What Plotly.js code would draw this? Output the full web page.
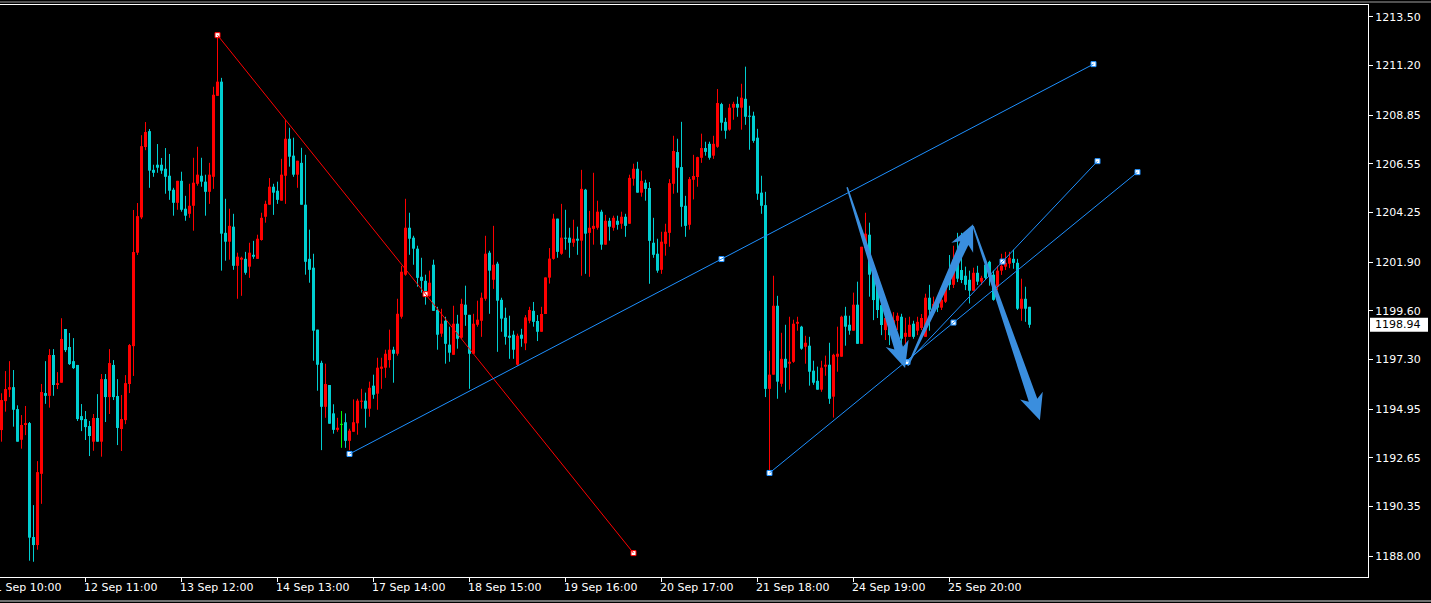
<!DOCTYPE html>
<html><head><meta charset="utf-8">
<script src="https://cdn.plot.ly/plotly-3.0.1.min.js"></script>
<style>html,body{margin:0;padding:0;background:#000;overflow:hidden}#chart{width:1431px;height:603px}</style>
</head><body><div id="chart"></div>
<script>
// ---------- data (XAUUSD H1, bar index 0..257) ----------
const open = [1193.96,1195.33,1195.87,1195.99,1194.95,1193.50,1194.20,1194.29,1188.90,1188.52,
1191.89,1195.71,1195.58,1197.51,1196.09,1196.20,1198.74,1197.89,1197.22,1197.04,
1194.62,1194.48,1194.15,1193.41,1194.53,1193.41,1196.37,1195.52,1197.04,1195.57,
1194.01,1194.43,1196.14,1197.93,1202.35,1204.02,1207.35,1208.10,1206.27,1206.51,
1206.51,1206.32,1205.99,1205.33,1204.71,1205.75,1204.43,1204.19,1204.57,1205.61,
1205.99,1205.71,1205.23,1205.94,1209.77,1210.44,1203.29,1202.87,1203.58,1201.73,
1202.02,1202.06,1201.69,1202.25,1202.06,1202.95,1204.05,1204.62,1205.47,1205.28,
1204.81,1205.99,1207.74,1206.94,1206.04,1206.60,1204.62,1202.06,1201.64,1198.71,
1197.14,1195.06,1196.09,1194.75,1193.97,1194.23,1194.33,1193.45,1193.88,1194.28,
1195.30,1195.35,1194.97,1196.06,1195.68,1196.86,1196.91,1197.27,1197.76,1197.57,
1199.32,1201.31,1203.53,1203.06,1202.54,1201.21,1201.02,1200.31,1201.78,1199.65,
1198.52,1199.13,1198.00,1197.52,1198.99,1198.33,1199.89,1199.41,1197.57,1198.94,
1199.13,1200.17,1202.35,1201.07,1201.83,1200.12,1199.27,1198.42,1198.47,1197.05,
1198.47,1198.06,1199.13,1199.60,1199.12,1198.61,1199.45,1201.17,1202.06,1203.96,
1202.30,1203.06,1203.06,1202.82,1203.01,1202.92,1205.33,1203.29,1203.48,1203.53,
1204.29,1202.73,1203.86,1203.53,1203.86,1203.72,1204.05,1203.72,1205.85,1206.32,
1205.19,1205.66,1205.41,1202.82,1202.30,1201.54,1202.77,1203.29,1205.61,1207.11,
1206.40,1204.57,1203.67,1205.80,1205.93,1206.84,1207.30,1207.50,1206.94,1207.36,
1209.38,1208.54,1208.17,1209.21,1209.39,1209.21,1209.63,1208.83,1208.83,1207.79,
1205.19,1204.60,1195.91,1196.58,1199.84,1196.15,1197.33,1197.10,1197.19,1198.99,
1198.85,1197.90,1197.95,1196.77,1196.29,1195.87,1196.96,1197.05,1195.54,1197.43,
1197.43,1199.37,1198.94,1198.66,1199.89,1198.04,1202.58,1203.20,1201.34,1200.74,
1199.87,1198.69,1199.26,1198.45,1199.13,1199.32,1198.37,1198.37,1198.99,1198.66,
1198.79,1198.37,1200.22,1199.79,1199.93,1199.75,1200.03,1201.21,1200.83,1201.87,
1201.53,1201.26,1201.07,1200.55,1201.40,1200.98,1201.78,1201.92,1201.31,1200.74,
1201.50,1201.69,1201.83,1202.06,1201.87,1199.70,1200.17,1199.79];
const high = [1195.70,1196.75,1197.22,1196.80,1195.13,1194.67,1195.10,1194.34,1190.41,1192.49,
1196.14,1197.22,1197.79,1197.79,1196.70,1199.25,1198.74,1198.55,1198.31,1197.04,
1195.19,1194.86,1194.39,1194.72,1195.66,1196.61,1196.61,1197.79,1197.27,1196.37,
1195.62,1196.56,1198.03,1204.37,1204.70,1207.91,1208.53,1208.20,1206.51,1207.49,
1206.83,1207.30,1207.02,1205.42,1205.75,1206.18,1205.04,1205.61,1206.84,1207.36,
1206.84,1206.04,1206.60,1210.20,1212.64,1210.62,1204.90,1204.43,1204.19,1202.35,
1202.16,1202.39,1202.82,1202.91,1203.20,1204.24,1204.81,1205.88,1205.61,1205.71,
1206.79,1208.62,1208.26,1207.79,1206.70,1207.31,1206.98,1203.44,1202.30,1198.71,
1197.24,1197.10,1196.09,1195.18,1194.54,1194.86,1194.75,1194.02,1195.41,1195.44,
1195.91,1195.73,1196.25,1196.58,1197.38,1197.38,1197.76,1198.71,1197.90,1200.17,
1201.73,1204.90,1204.24,1203.15,1202.68,1202.11,1201.31,1201.50,1202.02,1199.79,
1199.70,1199.32,1198.85,1199.84,1199.41,1200.17,1200.79,1199.41,1199.46,1200.08,
1200.46,1203.15,1202.44,1203.62,1201.92,1200.22,1199.75,1199.37,1198.66,1198.52,
1198.75,1199.40,1199.79,1200.02,1199.40,1199.79,1201.18,1202.57,1204.19,1203.96,
1204.66,1204.38,1203.53,1203.91,1203.58,1206.27,1205.37,1204.33,1206.13,1204.81,
1204.38,1204.14,1204.00,1204.10,1204.10,1204.29,1204.19,1206.04,1206.56,1206.65,
1206.23,1205.80,1205.69,1204.00,1203.01,1203.34,1203.72,1205.83,1207.88,1207.74,
1208.54,1205.04,1205.93,1206.98,1206.89,1207.98,1207.60,1207.60,1207.88,1210.09,
1209.44,1208.73,1209.39,1209.49,1209.73,1210.34,1211.15,1209.30,1209.02,1208.21,
1205.99,1205.23,1197.71,1201.26,1200.31,1198.56,1198.94,1199.32,1199.18,1199.32,
1198.89,1198.42,1198.37,1197.24,1196.96,1197.24,1197.48,1198.09,1197.57,1198.85,
1199.37,1199.79,1199.37,1200.46,1200.98,1202.63,1204.24,1203.77,1201.77,1201.06,
1200.20,1199.40,1199.54,1199.54,1199.51,1199.46,1199.27,1199.32,1199.13,1199.32,
1199.45,1200.41,1200.83,1200.27,1200.20,1200.27,1201.21,1202.24,1202.68,1203.29,
1203.29,1201.69,1201.50,1201.64,1201.73,1201.26,1201.97,1201.97,1201.50,1201.73,
1202.30,1202.39,1202.39,1202.49,1202.06,1201.12,1200.74,1199.79];
const low = [1193.41,1194.83,1195.52,1194.12,1193.41,1193.08,1193.72,1187.78,1187.73,1188.30,
1190.47,1195.20,1195.02,1195.58,1195.90,1196.20,1197.65,1197.04,1196.85,1194.39,
1193.91,1193.49,1192.73,1192.98,1193.41,1192.70,1194.34,1194.72,1195.38,1193.25,
1192.97,1194.24,1195.71,1196.52,1202.24,1203.94,1207.20,1205.42,1205.94,1206.13,
1206.08,1205.14,1204.85,1204.10,1204.38,1204.29,1203.86,1204.00,1203.39,1205.52,
1205.47,1204.10,1204.66,1205.37,1209.77,1201.50,1201.97,1202.02,1201.54,1200.17,
1200.31,1201.31,1201.16,1202.06,1202.06,1202.92,1203.77,1204.62,1204.14,1204.66,
1204.81,1204.66,1206.42,1205.94,1205.42,1204.62,1201.31,1200.93,1197.24,1195.82,
1193.01,1194.54,1194.26,1193.79,1193.88,1193.12,1193.12,1193.01,1193.88,1193.74,
1194.97,1194.07,1194.59,1195.44,1194.92,1195.91,1196.43,1196.91,1196.20,1197.48,
1199.23,1201.26,1202.25,1201.78,1200.74,1200.46,1199.89,1200.27,1199.60,1197.76,
1198.37,1197.10,1197.19,1197.52,1197.81,1198.28,1198.89,1195.91,1197.57,1198.85,
1198.37,1200.08,1199.46,1200.64,1197.66,1198.61,1198.00,1197.33,1197.33,1197.00,
1197.90,1197.74,1199.01,1198.85,1198.17,1198.61,1199.45,1200.89,1202.02,1202.11,
1202.25,1202.49,1202.11,1202.63,1202.25,1201.26,1201.35,1201.21,1202.73,1203.44,
1202.49,1202.73,1202.92,1203.39,1203.44,1203.48,1203.10,1203.72,1205.52,1205.19,
1205.00,1204.81,1200.88,1202.11,1201.40,1201.35,1202.21,1202.63,1205.14,1205.19,
1203.58,1203.10,1203.44,1204.87,1205.47,1206.60,1206.94,1206.75,1206.79,1207.31,
1208.12,1207.74,1208.12,1208.64,1208.78,1208.17,1208.40,1207.22,1207.55,1204.85,
1204.19,1195.52,1191.93,1196.58,1195.44,1196.01,1195.73,1195.87,1197.14,1198.66,
1197.76,1197.10,1196.06,1196.10,1195.87,1195.77,1196.53,1195.20,1194.55,1196.72,
1197.43,1197.95,1198.47,1198.66,1198.04,1198.04,1202.58,1200.27,1199.16,1199.26,
1198.45,1198.22,1197.98,1198.22,1198.69,1198.04,1197.98,1198.37,1198.28,1198.45,
1198.69,1198.37,1198.66,1199.40,1199.54,1199.64,1199.97,1200.58,1200.68,1200.96,
1200.91,1200.58,1199.95,1200.55,1200.82,1200.83,1201.06,1200.79,1200.08,1200.58,
1201.30,1201.53,1201.62,1201.59,1199.64,1199.13,1199.08,1198.80];
const close = [1195.38,1195.90,1195.99,1194.92,1193.41,1194.20,1194.29,1188.87,1188.52,1191.97,
1195.76,1195.58,1197.51,1196.09,1196.18,1198.27,1197.74,1197.08,1196.89,1194.48,
1194.43,1194.10,1193.68,1194.53,1193.41,1196.37,1195.52,1197.13,1195.52,1194.06,
1194.48,1196.18,1197.98,1202.38,1204.08,1207.39,1208.06,1206.23,1206.13,1206.37,
1206.23,1205.94,1205.28,1204.71,1205.75,1204.38,1204.10,1204.57,1205.66,1206.04,
1205.71,1205.23,1206.04,1209.82,1210.44,1203.25,1202.87,1203.62,1201.73,1202.16,
1202.11,1201.40,1202.35,1202.16,1203.01,1204.00,1204.66,1205.47,1205.19,1204.85,
1206.04,1207.74,1206.89,1206.04,1206.70,1204.62,1201.92,1201.54,1198.66,1197.05,
1195.06,1196.14,1194.26,1193.97,1194.07,1194.23,1193.45,1193.93,1194.33,1195.35,
1195.35,1194.97,1195.96,1195.63,1196.91,1196.96,1197.57,1197.76,1197.57,1199.46,
1201.45,1203.53,1203.01,1202.54,1201.16,1201.02,1200.41,1200.93,1199.60,1198.47,
1198.99,1198.04,1197.62,1198.99,1198.28,1199.93,1199.41,1197.57,1198.99,1199.18,
1200.22,1202.30,1201.50,1201.78,1200.08,1199.23,1198.37,1198.33,1197.76,1198.42,
1198.28,1199.29,1199.64,1199.08,1198.61,1199.45,1201.18,1202.07,1203.96,1202.39,
1203.06,1203.01,1202.82,1203.01,1202.92,1205.37,1203.25,1203.53,1203.62,1204.29,
1202.73,1203.86,1203.58,1204.00,1203.67,1204.05,1203.62,1205.89,1206.32,1205.19,
1205.75,1205.37,1202.91,1202.25,1201.50,1202.87,1203.34,1205.64,1207.16,1206.37,
1204.52,1203.62,1205.83,1205.98,1206.87,1207.30,1207.12,1206.84,1207.50,1209.43,
1208.50,1208.12,1209.21,1209.39,1209.21,1209.68,1208.78,1208.78,1207.64,1205.14,
1204.57,1195.91,1196.58,1199.84,1196.25,1197.33,1196.91,1197.19,1198.99,1199.08,
1197.81,1198.09,1196.72,1196.20,1195.87,1196.91,1197.05,1195.44,1197.52,1197.57,
1199.32,1198.85,1198.66,1199.89,1198.04,1202.63,1203.25,1201.31,1200.11,1199.64,
1198.93,1199.26,1198.45,1199.16,1199.37,1198.28,1198.56,1198.94,1198.37,1199.08,
1199.26,1200.22,1199.65,1199.93,1199.75,1200.12,1200.74,1200.83,1202.02,1201.12,
1201.06,1200.83,1200.55,1201.40,1200.98,1201.16,1201.16,1201.21,1200.12,1201.50,
1201.73,1201.87,1202.11,1201.87,1199.70,1200.17,1199.70,1198.94];

const timeTickBars   = [-3, 21, 45, 69, 93, 117, 141, 165, 189, 213, 237];
const timeTickLabels = ['11 Sep 10:00','12 Sep 11:00','13 Sep 12:00','14 Sep 13:00','17 Sep 14:00',
                        '18 Sep 15:00','19 Sep 16:00','20 Sep 17:00','21 Sep 18:00','24 Sep 19:00','25 Sep 20:00'];
const priceTicks = [1213.50,1211.20,1208.85,1206.55,1204.25,1201.90,1199.60,1197.30,1194.95,1192.65,1190.35,1188.00];
const lastPrice = 1198.94;

// drawing objects (anchored to bar index / price)
const redTrendBars   = [54, 158];
const redTrendPrices = [1212.64, 1188.14];
const blueTrendBars   = [[87, 273], [192, 284], [226.5, 274]];
const blueTrendPrices = [[1192.83, 1211.27], [1191.93, 1206.16], [1197.18, 1206.68]];
const arrowBars   = [[211.4, 225.9], [226.6, 242.9], [242.9, 259.6]];
const arrowPrices = [[1205.45, 1196.89], [1197.00, 1203.70], [1203.61, 1194.43]];

// ---------- rendering ----------
const W = 1431, H = 603, ML = 0, MR = 63, MT = 5, MB = 26;
const plotW = W - ML - MR, plotH = H - MT - MB;
const pxPerBar = 4, pxPerUnit = 21.14;
const xr = [-0.375, -0.375 + plotW / pxPerBar];
const yTop = 1214.067;
const yr = [yTop - plotH / pxPerUnit, yTop];

const UP = '#FF0000', DN = '#00CED1', DOJI = '#00FF00';
const n = open.length;
const idx = open.map((_, i) => i);

const bodyBase = [], bodyH = [], bodyCol = [];
const wick = {up: {x: [], y: []}, dn: {x: [], y: []}, doji: {x: [], y: []}};
for (let i = 0; i < n; i++) {
  const o = open[i], c = close[i];
  bodyBase.push(Math.min(o, c));
  bodyH.push(Math.abs(c - o));
  const kind = c > o ? 'up' : (c < o ? 'dn' : 'doji');
  bodyCol.push(kind === 'up' ? UP : (kind === 'dn' ? DN : DOJI));
  const w = wick[kind];
  w.x.push(i, i, null); w.y.push(high[i], low[i], null);
  if (kind === 'doji') { w.x.push(i - 0.375, i + 0.375, null); w.y.push(o, o, null); }
}

const traces = [
  {type: 'bar', x: idx, y: bodyH, base: bodyBase, width: 0.75,
   marker: {color: bodyCol, line: {width: 0}}, hoverinfo: 'skip'},
  {type: 'scatter', mode: 'lines', x: wick.up.x, y: wick.up.y, line: {color: UP, width: 1}, hoverinfo: 'skip'},
  {type: 'scatter', mode: 'lines', x: wick.dn.x, y: wick.dn.y, line: {color: DN, width: 1}, hoverinfo: 'skip'},
  {type: 'scatter', mode: 'lines', x: wick.doji.x, y: wick.doji.y, line: {color: DOJI, width: 1}, hoverinfo: 'skip'}
];

function toPx(k, p) {
  return [ML + (k - xr[0]) / (xr[1] - xr[0]) * plotW, MT + (yr[1] - p) / (yr[1] - yr[0]) * plotH];
}
function toData(px, py) {
  return [xr[0] + (px - ML) / plotW * (xr[1] - xr[0]), yr[1] - (py - MT) / plotH * (yr[1] - yr[0])];
}

const shapes = [];
const annotations = [];

// trend lines + their anchor markers
const mk = {x: [], y: [], c: []};
function addTrend(bars, prices, color) {
  shapes.push({type: 'line', xref: 'x', yref: 'y', x0: bars[0], y0: prices[0], x1: bars[1], y1: prices[1],
               line: {color: color, width: 1}});
  mk.x.push(bars[0], (bars[0] + bars[1]) / 2, bars[1]);
  mk.y.push(prices[0], (prices[0] + prices[1]) / 2, prices[1]);
  mk.c.push(color, color, color);
}
addTrend(redTrendBars, redTrendPrices, '#FF0000');
blueTrendBars.forEach((b, i) => addTrend(b, blueTrendPrices[i], '#1E90FF'));

// tapered arrows
const arrowColor = 'rgb(58,142,222)';
function arrowPath(bars, prices) {
  const [x0, y0] = toPx(bars[0], prices[0]);
  const [x1, y1] = toPx(bars[1], prices[1]);
  const dx = x1 - x0, dy = y1 - y0, len = Math.hypot(dx, dy);
  const ux = dx / len, uy = dy / len, nx = -uy, ny = ux;
  const tailW = 1.5, neckW = 9, headLen = 26, headW = 24, notch = 5;
  const P = (a, s) => toData(x0 + ux * a + nx * s, y0 + uy * a + ny * s);
  const pts = [P(0, tailW / 2), P(len - headLen + notch, neckW / 2), P(len - headLen, headW / 2), P(len, 0),
               P(len - headLen, -headW / 2), P(len - headLen + notch, -neckW / 2), P(0, -tailW / 2)];
  return 'M' + pts.map(p => p[0] + ',' + p[1]).join('L') + 'Z';
}
arrowBars.forEach((b, i) => shapes.push({type: 'path', xref: 'x', yref: 'y', path: arrowPath(b, arrowPrices[i]),
  fillcolor: arrowColor, line: {width: 0}}));

traces.push({type: 'scatter', mode: 'markers', x: mk.x, y: mk.y, hoverinfo: 'skip', cliponaxis: false,
  marker: {symbol: 'square', size: 5, color: '#FFFFFF', line: {color: mk.c, width: 1}}});

// window borders
shapes.push({type: 'line', xref: 'paper', yref: 'paper', x0: 0, x1: W / plotW, y0: 1 + 3 / plotH, y1: 1 + 3 / plotH,
             line: {color: '#A0A0A0', width: 1}});
shapes.push({type: 'line', xref: 'paper', yref: 'paper', x0: 0, x1: W / plotW, y0: -24 / plotH, y1: -24 / plotH,
             line: {color: '#E0E0E0', width: 1}});

// last price box
shapes.push({type: 'rect', xref: 'paper', xsizemode: 'pixel', xanchor: 1, x0: 2, x1: 60,
             yref: 'y', ysizemode: 'pixel', yanchor: lastPrice, y0: -7, y1: 7,
             fillcolor: '#FFFFFF', line: {width: 0}});
annotations.push({xref: 'paper', x: 1, xanchor: 'left', xshift: 5, yref: 'y', y: lastPrice, yanchor: 'middle',
                  text: lastPrice.toFixed(2), showarrow: false, font: {family: 'DejaVu Sans', size: 11, color: '#000'}});

// time labels (left-aligned at their tick, like the terminal)
timeTickBars.forEach((b, i) => annotations.push({
  xref: 'paper', x: (b - xr[0]) / (xr[1] - xr[0]), xanchor: 'left', xshift: -4,
  yref: 'paper', y: 0, yanchor: 'top', yshift: -2,
  text: timeTickLabels[i], showarrow: false, font: {family: 'DejaVu Sans', size: 11, color: '#FFFFFF'}}));

const layout = {
  width: W, height: H, margin: {l: ML, r: MR, t: MT, b: MB, pad: 0},
  paper_bgcolor: '#000', plot_bgcolor: '#000', showlegend: false, barmode: 'overlay', hovermode: false,
  xaxis: {range: xr, showgrid: false, zeroline: false, showline: true, mirror: true, linecolor: '#FFFFFF', linewidth: 1,
          ticks: 'outside', ticklen: 4, tickcolor: '#FFFFFF', tickvals: timeTickBars, showticklabels: false, fixedrange: true},
  yaxis: {range: yr, side: 'right', showgrid: false, zeroline: false, showline: true, linecolor: '#FFFFFF', linewidth: 1,
          ticks: 'outside', ticklen: 4, tickcolor: '#FFFFFF', tickvals: priceTicks,
          ticktext: priceTicks.map(v => v.toFixed(2)),
          tickfont: {family: 'DejaVu Sans', size: 11, color: '#FFFFFF'}, fixedrange: true},
  shapes: shapes, annotations: annotations
};
Plotly.newPlot('chart', traces, layout, {displayModeBar: false, staticPlot: true});
</script></body></html>
